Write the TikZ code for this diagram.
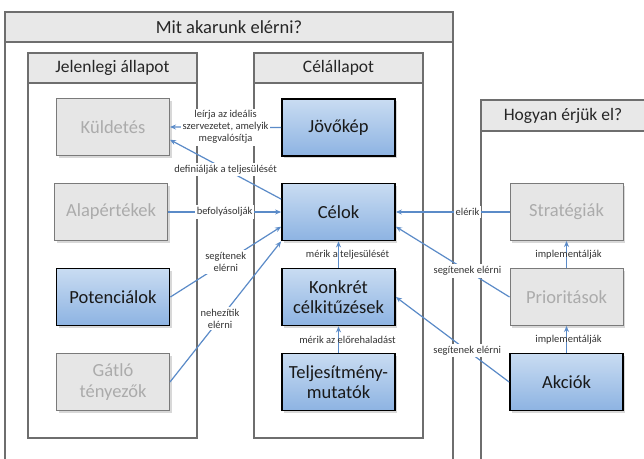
\documentclass[tikz,border=0pt]{standalone}
\usepackage{fontspec}
\setmainfont{Carlito}
\usetikzlibrary{arrows.meta,shadows,calc}
\definecolor{arrowblue}{HTML}{5B8BC8}
\definecolor{bluetop}{HTML}{C9DCF2}
\definecolor{bluebot}{HTML}{8DB3E2}
\definecolor{grayfill}{HTML}{E6E6E6}
\definecolor{grayborder}{HTML}{7A7A7A}
\definecolor{graytext}{HTML}{ABABAB}
\definecolor{contline}{HTML}{6E6E6E}
\definecolor{hdrfill}{HTML}{E8E8E8}
\begin{document}
\begin{tikzpicture}[x=1pt,y=-1pt,
  boxbase/.style={minimum width=113pt, minimum height=57pt, inner sep=2pt, align=center,
    font=\fontsize{18.5}{20.5}\selectfont,
    drop shadow={shadow xshift=2pt, shadow yshift=-2pt, opacity=.3}},
  bluebox/.style={boxbase, draw=black, line width=1.8pt, top color=bluetop, bottom color=bluebot, text=black!90},
  graybox/.style={boxbase, draw=grayborder, line width=1pt, fill=grayfill, text=graytext},
  cont/.style={draw=contline, line width=1.2pt, fill=white},
  hdr/.style={draw=contline, line width=1.2pt, fill=hdrfill},
  hdrtext/.style={font=\fontsize{17.5}{19}\selectfont, text=black!85},
  arr/.style={draw=arrowblue, line width=1.2pt, -{Stealth[length=6pt,width=5pt]}},
  lbl/.style={fill=white, inner sep=2pt, align=center, font=\fontsize{10.5}{12}\selectfont, text=black!80},
  vlbl/.style={inner sep=1pt, align=center, font=\fontsize{10.5}{12}\selectfont, text=black!80}
]
\useasboundingbox (0,0) rectangle (644,458);
% containers
\draw[cont] (5,12) rectangle (453,475);
\draw[hdr] (5,12) rectangle (453,42);
\node[hdrtext, font=\fontsize{18.5}{20}\selectfont] (t1) at (229,27) {Mit akarunk elérni?};
\draw[cont] (28,53) rectangle (197,438);
\draw[hdr] (28,53) rectangle (197,83);
\node[hdrtext] (t2) at (112.5,68) {Jelenlegi állapot};
\draw[cont] (254,53) rectangle (423,438);
\draw[hdr] (254,53) rectangle (423,83);
\node[hdrtext] (t3) at (338.5,68) {Célállapot};
\draw[cont] (481,100) rectangle (660,475);
\draw[hdr] (481,100) rectangle (660,131);
\node[hdrtext] (t4) at (563,115.5) {Hogyan érjük el?};
% boxes
\node[graybox] (kuld) at (113,127) {Küldetés};
\node[graybox] (alap) at (111,212) {Alapértékek};
\node[bluebox] (pot) at (113,297) {Potenciálok};
\node[graybox] (gat) at (113,382) {Gátló\\tényezők};
\node[bluebox] (jov) at (338.5,127.5) {Jövőkép};
\node[bluebox] (cel) at (338.5,212) {Célok};
\node[bluebox] (konk) at (338.5,297) {Konkrét\\célkitűzések};
\node[bluebox] (telj) at (338.5,382) {Teljesítmény-\\mutatók};
\node[graybox] (strat) at (566.5,212) {Stratégiák};
\node[graybox] (prio) at (566.5,297) {Prioritások};
\node[bluebox] (akc) at (566.5,382) {Akciók};
% connectors
\draw[arr] (jov.west) -- node[lbl] {leírja az ideális\\szervezetet, amelyik\\megvalósítja} (kuld.east);
\draw[arr] ($(cel.north west)!0.28!(cel.south west)$) -- node[lbl] {definiálják a teljesülését} ($(kuld.north east)!0.72!(kuld.south east)$);
\draw[arr] (alap.east) -- node[lbl] {befolyásolják} (cel.west);
\draw[arr] (pot.east) -- node[lbl] {segítenek\\elérni} ($(cel.south west)!0.25!(cel.north west)$);
\draw[arr] (gat.east) -- node[lbl, pos=0.45] {nehezítik\\elérni} (cel.south west);
\draw[arr] (konk.north) -- node[vlbl, xshift=9pt] {mérik a teljesülését} (cel.south);
\draw[arr] (telj.north) -- node[vlbl, xshift=9pt] {mérik az előrehaladást} (konk.south);
\draw[arr] (strat.west) -- node[lbl, pos=0.37] {elérik} (cel.east);
\draw[arr] (prio.west) -- node[lbl, pos=0.37] {segítenek elérni} ($(cel.south east)!0.25!(cel.north east)$);
\draw[arr] (akc.west) -- node[lbl, pos=0.37] {segítenek elérni} (konk.east);
\draw[arr] (prio.north) -- node[vlbl, xshift=2pt] {implementálják} (strat.south);
\draw[arr] (akc.north) -- node[vlbl, xshift=2pt] {implementálják} (prio.south);
\end{tikzpicture}
\end{document}
